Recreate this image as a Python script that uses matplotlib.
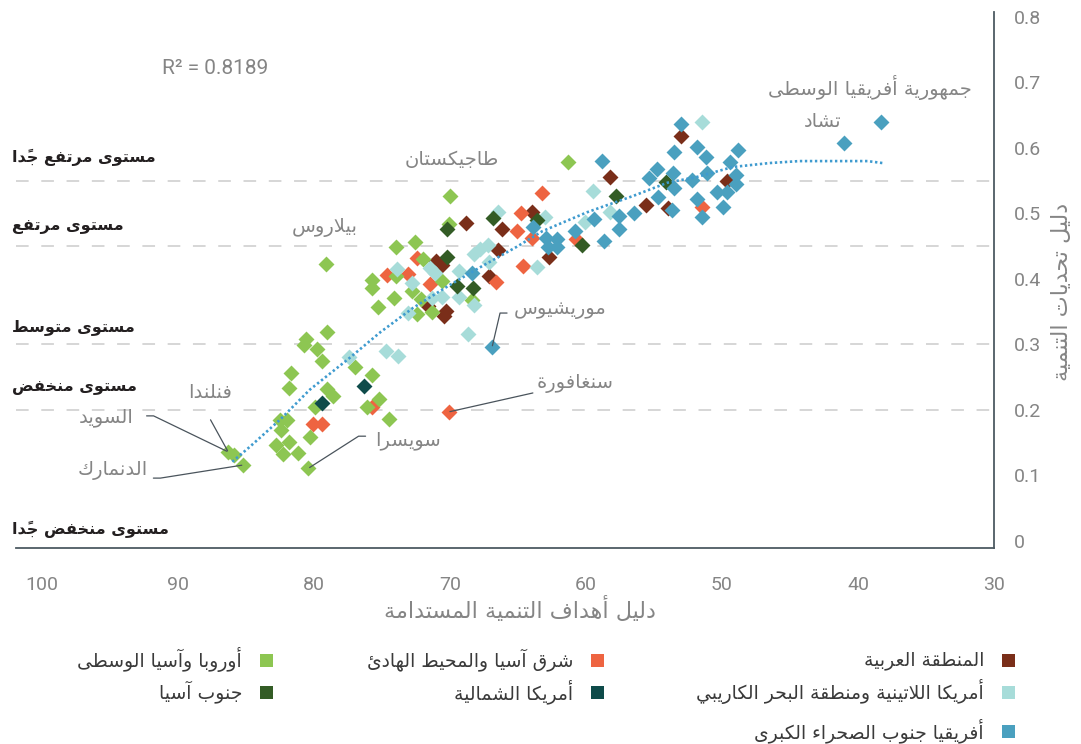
import matplotlib
matplotlib.use("Agg")
import matplotlib.pyplot as plt
from matplotlib.patches import Rectangle
from matplotlib.transforms import blended_transform_factory

# ── Data (x = SDG index, y = development challenges index)
regions = ["المنطقة العربية", "شرق آسيا والمحيط الهادئ", "أوروبا وآسيا الوسطى",
           "أمريكا اللاتينية ومنطقة البحر الكاريبي", "أمريكا الشمالية", "جنوب آسيا",
           "أفريقيا جنوب الصحراء الكبرى"]
colors = ["#7a2e19", "#ee6441", "#8dc652", "#a7dcd9", "#0e4b4a", "#335c25", "#4aa0bf"]

arab_x = [53.0, 58.2, 55.6, 54.0, 49.6, 64.0, 68.8, 66.2, 66.5, 67.1, 62.7, 71.0, 70.6, 71.6, 70.3, 70.4]
arab_y = [0.618, 0.556, 0.513, 0.508, 0.550, 0.502, 0.485, 0.476, 0.444, 0.405, 0.434, 0.427, 0.421,
          0.359, 0.351, 0.344]

eap_x = [63.2, 64.8, 65.1, 64.0, 72.4, 74.6, 73.1, 71.5, 64.6, 66.6, 60.7, 51.5, 80.1, 79.4, 75.7, 70.1]
eap_y = [0.531, 0.501, 0.473, 0.463, 0.432, 0.406, 0.408, 0.392, 0.420, 0.395, 0.461, 0.510, 0.179,
         0.179, 0.205, 0.197]

eca_x = [61.3, 70.0, 70.1, 74.0, 72.6, 79.1, 72.0, 74.0, 75.7, 75.7, 72.8, 74.1, 75.3, 70.6, 72.1,
         71.3, 72.4, 68.4, 79.0, 80.6, 80.7, 79.8, 79.4, 77.0, 75.7, 81.7, 81.8, 79.0, 78.6, 75.2,
         76.1, 79.9, 74.5, 82.5, 82.0, 82.4, 80.3, 82.8, 81.8, 82.3, 81.2, 86.3, 85.9, 85.2, 80.4]
eca_y = [0.579, 0.527, 0.484, 0.449, 0.456, 0.423, 0.431, 0.405, 0.398, 0.386, 0.382, 0.371, 0.357,
         0.397, 0.369, 0.350, 0.347, 0.368, 0.319, 0.308, 0.299, 0.293, 0.275, 0.266, 0.253, 0.256,
         0.234, 0.232, 0.221, 0.217, 0.205, 0.205, 0.186, 0.185, 0.185, 0.169, 0.159, 0.147, 0.151,
         0.133, 0.134, 0.136, 0.131, 0.116, 0.111]

lac_x = [51.5, 59.5, 66.5, 63.0, 60.1, 58.2, 68.2, 67.8, 67.2, 67.1, 69.3, 63.6, 71.5, 71.1, 73.9,
         72.8, 71.3, 70.6, 69.3, 68.2, 73.1, 68.7, 77.4, 74.7, 73.8]
lac_y = [0.640, 0.534, 0.502, 0.495, 0.487, 0.502, 0.438, 0.446, 0.452, 0.426, 0.412, 0.418, 0.417,
         0.409, 0.415, 0.394, 0.371, 0.373, 0.373, 0.360, 0.348, 0.316, 0.281, 0.290, 0.282]

na_x = [79.4, 76.3]
na_y = [0.211, 0.237]

sa_x = [66.8, 63.6, 70.2, 70.2, 69.5, 68.3, 60.3, 57.8, 54.1]
sa_y = [0.493, 0.490, 0.476, 0.434, 0.389, 0.386, 0.452, 0.527, 0.548]

ssa_x = [38.3, 41.0, 53.0, 51.8, 53.5, 51.2, 48.8, 49.4, 58.8, 54.8, 53.6, 51.1, 49.0, 55.4, 52.2,
         49.0, 53.5, 50.4, 49.6, 54.7, 51.8, 53.7, 49.9, 51.5, 56.5, 57.6, 59.4, 57.6, 60.8, 58.7,
         63.9, 62.9, 62.1, 62.8, 62.1, 68.4, 66.9]
ssa_y = [0.640, 0.608, 0.637, 0.602, 0.594, 0.586, 0.597, 0.579, 0.580, 0.568, 0.562, 0.562, 0.559,
         0.554, 0.551, 0.545, 0.539, 0.533, 0.533, 0.525, 0.522, 0.505, 0.510, 0.495, 0.501, 0.496,
         0.492, 0.476, 0.473, 0.458, 0.479, 0.463, 0.461, 0.449, 0.449, 0.409, 0.296]

# dotted trend line as drawn in the picture
trend_x = [86.0, 84.7, 82.5, 80.3, 77.4, 75.1, 72.7, 70.0, 67.6, 65.1, 63.2, 59.9, 56.5, 54.0, 51.8,
           49.2, 46.5, 44.3, 41.8, 39.3, 38.2]
trend_y = [0.121, 0.144, 0.185, 0.231, 0.279, 0.319, 0.356, 0.391, 0.420, 0.449, 0.473, 0.502, 0.527,
           0.547, 0.556, 0.571, 0.577, 0.580, 0.580, 0.580, 0.577]
r_squared = 0.8189

thresholds = [0.55, 0.45, 0.30, 0.20]
level_names = ["مستوى مرتفع جدًا", "مستوى مرتفع", "مستوى متوسط", "مستوى منخفض", "مستوى منخفض جدًا"]
level_label_y = [0.585, 0.480, 0.327, 0.235, 0.017]

x_ticks = [100, 90, 80, 70, 60, 50, 40, 30]
y_ticks = [0, 0.1, 0.2, 0.3, 0.4, 0.5, 0.6, 0.7, 0.8]
x_title = "دليل أهداف التنمية المستدامة"
y_title = "دليل تحديات التنمية"

# ── Minimal Arabic shaping (matplotlib has no bidi / contextual forms) ──────
_AR_DUAL = {
    'ئ': 0xFE89, 'ب': 0xFE8F, 'ت': 0xFE95, 'ث': 0xFE99, 'ج': 0xFE9D, 'ح': 0xFEA1,
    'خ': 0xFEA5, 'س': 0xFEB1, 'ش': 0xFEB5, 'ص': 0xFEB9, 'ض': 0xFEBD, 'ط': 0xFEC1,
    'ظ': 0xFEC5, 'ع': 0xFEC9, 'غ': 0xFECD, 'ف': 0xFED1, 'ق': 0xFED5, 'ك': 0xFED9,
    'ل': 0xFEDD, 'م': 0xFEE1, 'ن': 0xFEE5, 'ه': 0xFEE9, 'ي': 0xFEF1,
}
_AR_RIGHT = {
    'آ': 0xFE81, 'أ': 0xFE83, 'ؤ': 0xFE85, 'إ': 0xFE87, 'ا': 0xFE8D, 'ة': 0xFE93,
    'د': 0xFEA9, 'ذ': 0xFEAB, 'ر': 0xFEAD, 'ز': 0xFEAF, 'و': 0xFEED, 'ى': 0xFEEF,
}
_LAM_ALEF = {'آ': 0xFEF5, 'أ': 0xFEF7, 'إ': 0xFEF9, 'ا': 0xFEFB}


def ar(text):
    """Shape Arabic text into presentation forms and return it in visual order."""
    clusters = []
    for ch in text:
        if '\u064b' <= ch <= '\u0652' and clusters:
            clusters[-1][1] += ch
        else:
            clusters.append([ch, ''])
    merged = []
    for ch, mk in clusters:
        if merged and merged[-1][0] == 'ل' and not merged[-1][1] and ch in _LAM_ALEF:
            merged[-1] = ['ل' + ch, mk]
        else:
            merged.append([ch, mk])

    def joinable(c):
        return c in _AR_DUAL or c in _AR_RIGHT or len(c) == 2

    glyphs = []
    for i, (ch, mk) in enumerate(merged):
        prev_joins = i > 0 and merged[i - 1][0] in _AR_DUAL
        next_ok = i + 1 < len(merged) and joinable(merged[i + 1][0])
        if len(ch) == 2:
            g = chr(_LAM_ALEF[ch[1]] + int(prev_joins))
        elif ch in _AR_DUAL:
            g = chr(_AR_DUAL[ch] + [[0, 2], [1, 3]][int(prev_joins)][int(next_ok)])
        elif ch in _AR_RIGHT:
            g = chr(_AR_RIGHT[ch] + int(prev_joins))
        else:
            g = ch
        glyphs.append(g + mk)
    return ''.join(reversed(glyphs))


# ── Figure ───────────────────────────────────────────────────────────────
W, H = 1081, 744
plt.rcParams.update({
    "font.family": ["Roboto", "DejaVu Sans"],
    "font.size": 14,
})
AR_FONT = "DejaVu Sans"
GREY = "#858585"
AXIS = "#4d5a62"


def fx(px):
    return px / W


def fy(py):
    return 1 - py / H


fig = plt.figure(figsize=(W / 100, H / 100), dpi=100)
ax = fig.add_axes([fx(16), fy(548), fx(994) - fx(16), fy(12) - fy(548)])

# threshold lines
for t in thresholds:
    ax.axhline(t, color="#d3d3d3", lw=1.3, ls=(0, (7, 7)), zorder=1)

series = [(arab_x, arab_y), (eap_x, eap_y), (eca_x, eca_y), (lac_x, lac_y),
          (na_x, na_y), (sa_x, sa_y), (ssa_x, ssa_y)]
for (xs, ys), c in zip(series, colors):
    ax.scatter(xs, ys, marker="D", s=66, color=c, linewidths=0, zorder=3)

ax.plot(trend_x, trend_y, color="#3f9bcf", lw=1.9, ls=(0, (0.9, 1.0)), zorder=4)

ax.set_xlim(101.9, 30)
ax.set_ylim(-0.0107, 0.8076)
ax.set_xticks(x_ticks)
ax.set_xticklabels([str(v) for v in x_ticks])
ax.set_yticks(y_ticks)
ax.set_yticklabels([f"{v:g}" for v in y_ticks])
ax.yaxis.tick_right()
ax.tick_params(axis="both", length=0, labelsize=14, labelcolor=GREY)
ax.tick_params(axis="x", pad=20)
ax.tick_params(axis="y", pad=14)
for side in ("top", "left"):
    ax.spines[side].set_visible(False)
for side in ("bottom", "right"):
    ax.spines[side].set_color(AXIS)
    ax.spines[side].set_linewidth(1.3)

# axis titles
fig.text(fx(520), fy(609), ar(x_title), family=AR_FONT, fontsize=16, color=GREY,
         ha="center", va="center")
fig.text(fx(1062), fy(292), ar(y_title), family=AR_FONT, fontsize=16, color=GREY,
         ha="center", va="center", rotation=90)

# R² note
fig.text(fx(215), fy(68), f"R² = {r_squared:.4f}", fontsize=15, color=GREY,
         ha="center", va="center")

# level labels at the left edge
lvl_tr = blended_transform_factory(fig.transFigure, ax.transData)
for name, yv in zip(level_names, level_label_y):
    ax.text(fx(12), yv, ar(name), transform=lvl_tr, family=AR_FONT, fontsize=11.5,
            fontweight="bold", color="#231f20", ha="left", va="center", clip_on=False)

# country labels (no leader)
plain_labels = [
    ("جمهورية أفريقيا الوسطى", 39.1, 0.692),
    ("تشاد", 42.6, 0.640),
    ("طاجيكستان", 69.9, 0.582),
    ("بيلاروس", 79.2, 0.478),
]
for txt, xv, yv in plain_labels:
    ax.text(xv, yv, ar(txt), family=AR_FONT, fontsize=14, color=GREY,
            ha="center", va="center")

# country labels with leader lines: label, target point, label centre, leader start, stub angle
callouts = [
    ("موريشيوس", (ssa_x[36], ssa_y[36]), (61.9, 0.353), (65.8, 0.348), 180),
    ("سنغافورة", (eap_x[15], eap_y[15]), (60.8, 0.240), (63.9, 0.226), None),
    ("سويسرا", (eca_x[44], eca_y[44]), (73.1, 0.154), (76.2, 0.160), 180),
    ("فنلندا", (eca_x[41], eca_y[41]), (87.6, 0.227), (87.6, 0.185), None),
    ("السويد", (eca_x[41], eca_y[41]), (95.3, 0.189), (92.3, 0.191), 0),
    ("الدنمارك", (eca_x[43], eca_y[43]), (94.8, 0.108), (91.8, 0.096), 0),
]
for txt, target, pos, start, stub in callouts:
    ax.text(pos[0], pos[1], ar(txt), family=AR_FONT, fontsize=14, color=GREY,
            ha="center", va="center")
    if stub is None:
        cs = "arc3,rad=0"
    else:
        cs = f"arc,angleA={stub},armA=7,angleB=0,armB=0,rad=0"
    ax.annotate("", xy=target, xytext=start,
                arrowprops=dict(arrowstyle="-", color="#4a545c", lw=0.9,
                                shrinkA=0, shrinkB=1, connectionstyle=cs),
                zorder=5)

# legend: three right-to-left columns
col_px = [1008, 597, 266]
row_px = [660, 692, 731]
sq = 13
for k, (name, c) in enumerate(zip(regions, colors)):
    cx, cy = col_px[k % 3], row_px[k // 3]
    fig.patches.append(Rectangle((fx(cx - sq / 2), fy(cy + sq / 2)), sq / W, sq / H,
                                 transform=fig.transFigure, color=c, lw=0))
    fig.text(fx(cx - 24), fy(cy), ar(name), family=AR_FONT, fontsize=13.5,
             color="#3a3a3a", ha="right", va="center")

fig.savefig("out.png", dpi=100, facecolor="white")
plt.close(fig)
